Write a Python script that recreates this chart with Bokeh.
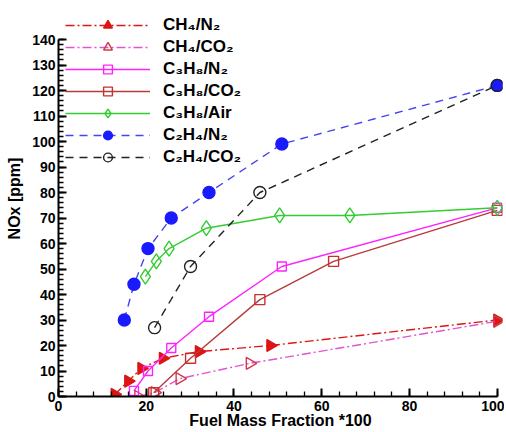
import math
from bokeh.plotting import figure
from bokeh.models import Legend, LegendItem, SingleIntervalTicker
from bokeh.embed import file_html
from bokeh.resources import INLINE

# ---- data ----
ch4_n2_x = [12.8, 15.9, 18.9, 23.8, 32.0, 48.3, 100]
ch4_n2_y = [0.8, 6, 11, 15, 17.6, 20, 30]

ch4_co2_x = [18.2, 21.9, 27.6, 43.6, 100]
ch4_co2_y = [0, 1.5, 7, 13, 29.5]

c3h8_n2_x = [17.2, 20.4, 25.7, 34.3, 50.9, 100]
c3h8_n2_y = [2.2, 10, 19, 31.3, 51, 74]

c3h8_co2_x = [21.7, 30.1, 45.9, 62.7, 100]
c3h8_co2_y = [1.5, 15, 38, 53, 73]

c3h8_air_x = [19.8, 22.3, 25.2, 33.7, 50.4, 66.4, 100]
c3h8_air_y = [47, 53, 58, 66, 71, 71, 74]

c2h4_n2_x = [15.0, 17.2, 20.4, 25.7, 34.3, 50.9, 100]
c2h4_n2_y = [30, 44, 58, 70, 80, 99, 122]

c2h4_co2_x = [21.9, 30.1, 45.9, 100]
c2h4_co2_y = [27, 51, 80, 122]

labels = ["CH₄/N₂", "CH₄/CO₂", "C₃H₈/N₂", "C₃H₈/CO₂", "C₃H₈/Air", "C₂H₄/N₂", "C₂H₄/CO₂"]

FONT = "Liberation Sans"

p = figure(width=504, height=432, x_range=(0, 101.2), y_range=(0, 155.3),
           output_backend="svg", toolbar_location=None,
           min_border_left=58, min_border_right=2, min_border_top=0, min_border_bottom=36)
p.outline_line_color = None
p.xgrid.visible = False
p.ygrid.visible = False

items = []

def series(x, y, label, line_color, dash, marker, m_line, m_fill, size, angle=0.0):
    r1 = p.line(x, y, line_color=line_color, line_width=1.4, line_dash=dash)
    r2 = p.scatter(x, y, marker=marker, size=size, angle=angle,
                   line_color=m_line, line_width=1.4,
                   fill_color=m_fill if m_fill else "white",
                   fill_alpha=1.0 if m_fill else 0.0)
    items.append(LegendItem(label=label, renderers=[r1, r2]))

series(ch4_n2_x, ch4_n2_y, labels[0], "#dd1515", "9 3 2 3", "triangle", "#dd1515", "#dd1515", 12, -math.pi / 2)
series(ch4_co2_x, ch4_co2_y, labels[1], "#e055d0", "9 3 2 3", "triangle", "#d03a4a", None, 12, -math.pi / 2)
series(c3h8_n2_x, c3h8_n2_y, labels[2], "#ff22ff", "solid", "square", "#ff22ff", None, 9)
series(c3h8_co2_x, c3h8_co2_y, labels[3], "#b83a3a", "solid", "square", "#c83030", None, 10)
series(c3h8_air_x, c3h8_air_y, labels[4], "#33cc33", "solid", "diamond", "#33cc33", None, 15)
series(c2h4_n2_x, c2h4_n2_y, labels[5], "#4545ee", "8 6", "circle", "#1a1aff", "#1a1aff", 12)
series(c2h4_co2_x, c2h4_co2_y, labels[6], "#222222", "8 6", "circle", "#222222", None, 12)

legend = Legend(items=items, location=(7, 228), orientation="vertical",
                glyph_width=85, glyph_height=22, label_height=22, spacing=0,
                label_standoff=13, padding=3, margin=0,
                border_line_color=None, background_fill_alpha=0.0,
                label_text_font=FONT, label_text_font_style="bold",
                label_text_font_size="17px", label_text_color="black")
p.add_layout(legend)

# axes
p.xaxis.ticker = SingleIntervalTicker(interval=20, num_minor_ticks=5)
p.yaxis.ticker = SingleIntervalTicker(interval=10, num_minor_ticks=5)
p.xaxis.bounds = (0, 100)
p.yaxis.bounds = (0, 140)
for ax in (p.xaxis[0], p.yaxis[0]):
    ax.axis_line_width = 2
    ax.axis_line_color = "black"
    ax.major_tick_in = 8
    ax.major_tick_out = 0
    ax.minor_tick_in = 5
    ax.minor_tick_out = 0
    ax.major_tick_line_width = 2
    ax.minor_tick_line_width = 1.3
    ax.major_label_text_font = FONT
    ax.major_label_text_font_style = "bold"
    ax.major_label_text_font_size = "14px"
    ax.major_label_text_color = "black"
    ax.axis_label_text_font = FONT
    ax.axis_label_text_font_style = "bold"
    ax.axis_label_text_font_size = "16px"
    ax.axis_label_text_color = "black"

p.xaxis.axis_label = "Fuel Mass Fraction *100"
p.yaxis.axis_label = "NOx [ppm]"
p.xaxis.major_label_standoff = 4
p.xaxis.axis_label_standoff = -2
p.yaxis.major_label_standoff = 3
p.yaxis.axis_label_standoff = 6

open("out.html", "w").write(file_html(p, INLINE))
